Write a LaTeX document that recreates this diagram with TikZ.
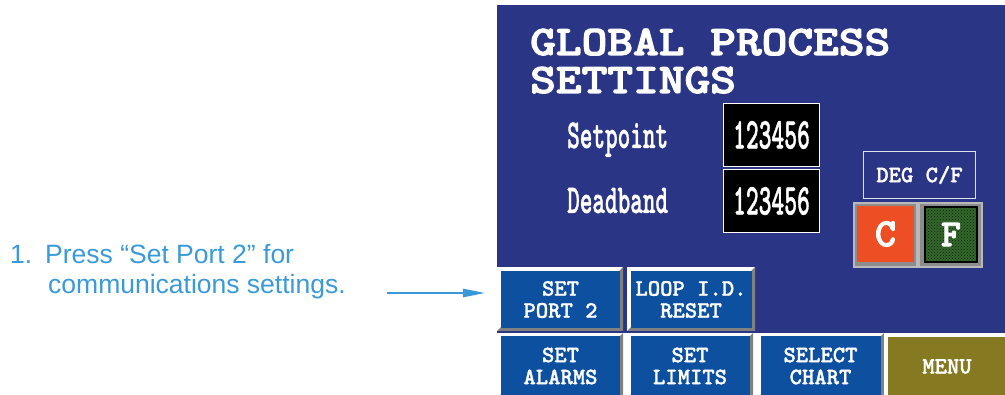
\documentclass[tikz,border=0pt]{standalone}
\usepackage{fontspec}
\setmainfont{Liberation Sans}
\newfontfamily\hm{lmmonolt10-bold.otf}[FakeBold=2.5]
\newfontfamily\mm{lmmonolt10-bold.otf}[FakeBold=1.2]
\usetikzlibrary{arrows.meta,patterns}
\definecolor{panel}{RGB}{43,53,133}
\definecolor{btnblue}{RGB}{14,80,160}
\definecolor{olive}{RGB}{133,121,34}
\definecolor{orng}{RGB}{238,78,36}
\definecolor{grn}{RGB}{52,104,44}
\definecolor{txtblue}{RGB}{58,154,217}
\definecolor{bevgray}{RGB}{128,128,128}
\newcommand\bevel[4]{%
  \fill[white] (#1,#2) rectangle (#3,#4);
  \fill[bevgray] (#3,#2) -- (#3,#4) -- (#1,#4) -- ++(3.5,-3.5) -- (#3-3.5,#4-3.5) -- (#3-3.5,#2+3.5) -- cycle;
}
\begin{document}
\begin{tikzpicture}[x=1pt,y=-1pt,
  btn/.style={fill=btnblue, inner sep=0pt, text=white, align=center,
    font=\mm\fontsize{23.5}{22}\selectfont},
  numbox/.style={fill=black, draw=white, line width=1.5pt, inner sep=0pt,
    minimum width=96pt, minimum height=63pt, text=white,
    font=\mm\fontsize{44}{44}\selectfont},
  lbl/.style={anchor=base west, inner sep=0pt, text=white,
    font=\mm\fontsize{41}{41}\selectfont},
  title/.style={anchor=base west, inner sep=0pt, text=white, text height=26pt, text depth=0pt,
    font=\hm\fontsize{49}{43}\selectfont},
  note/.style={anchor=base west, inner sep=0pt, text=txtblue,
    font=\fontsize{26.5}{30}\selectfont},
  arr/.style={draw=txtblue, line width=1.3pt, -{Triangle[length=22pt,width=8.5pt]}}]
\useasboundingbox (0,0) rectangle (1005,395);
\fill[white] (0,0) rectangle (1005,395);
% panel
\fill[panel] (497,5) rectangle (1005,333);
% title
\node[title] (t1) at (530,55) {\scalebox{1}[0.86]{GLOBAL PROCESS}};
\node[title] (t2) at (530,93) {\scalebox{1}[0.86]{SETTINGS}};
% labels
\node[lbl] (sp) at (567,148) {\scalebox{0.586}[1]{Setpoint}};
\node[lbl] (db) at (567,213) {\scalebox{0.586}[1]{Deadband}};
% number boxes
\node[numbox] (n1) at (771.5,135) {\scalebox{0.554}[1]{123456}};
\node[numbox] (n2) at (771.5,201) {\scalebox{0.554}[1]{123456}};
% deg c/f
\node[draw=white!85!panel, line width=1.3pt, minimum width=112pt, minimum height=47pt,
  inner sep=0pt, text=white, font=\mm\fontsize{23.5}{23.5}\selectfont] (deg) at (919.5,175) {DEG C/F};
\fill[gray!55] (853,202) rectangle (983,268);
\fill[bevgray!90] (855,204) rectangle (916,266);
\node[fill=orng, minimum width=57pt, minimum height=56pt, inner sep=0pt, text=white,
  font=\hm\fontsize{40}{40}\selectfont] (cbtn) at (885.5,234) {C};
\fill[bevgray!90] (920,204) rectangle (981,266);
\fill[black] (924,206) rectangle (978,263);
\fill[grn] (926,208) rectangle (976,261);
\fill[pattern=crosshatch dots, pattern color=black!70!grn] (926,208) rectangle (976,261);
\node[inner sep=0pt, text=white, font=\hm\fontsize{38}{38}\selectfont] (fbtn) at (951,234.5) {F};
% top row buttons
\bevel{497}{267}{623}{331}
\node[btn, minimum width=119pt, minimum height=57pt] (port2) at (560.5,299.5) {SET\\PORT 2};
\bevel{627}{267}{755}{331}
\node[btn, minimum width=121pt, minimum height=57pt] (loop) at (691,299.5) {LOOP I.D.\\RESET};
% bottom row buttons
\bevel{497}{333}{623}{398}
\node[btn, minimum width=119pt, minimum height=59pt] (alarms) at (560.5,366) {SET\\ALARMS};
\bevel{627}{333}{753}{398}
\node[btn, minimum width=119pt, minimum height=59pt] (limits) at (690,366) {SET\\LIMITS};
\bevel{757}{333}{884}{398}
\node[btn, minimum width=120pt, minimum height=59pt] (chart) at (820.5,366) {SELECT\\CHART};
\fill[white] (884,333) rectangle (1005,395);
\node[btn, fill=olive, minimum width=118pt, minimum height=59pt] (menu) at (947,366.5) {MENU};
% note
\node[note] (num) at (10,264) {1.};
\node[note] (l1) at (45,264) {Press “Set Port 2” for};
\node[note] (l2) at (48,294) {communications settings.};
\coordinate (astart) at (387,293);
\draw[arr, shorten >=16pt] (astart) -- (astart -| port2.west);
\end{tikzpicture}
\end{document}
